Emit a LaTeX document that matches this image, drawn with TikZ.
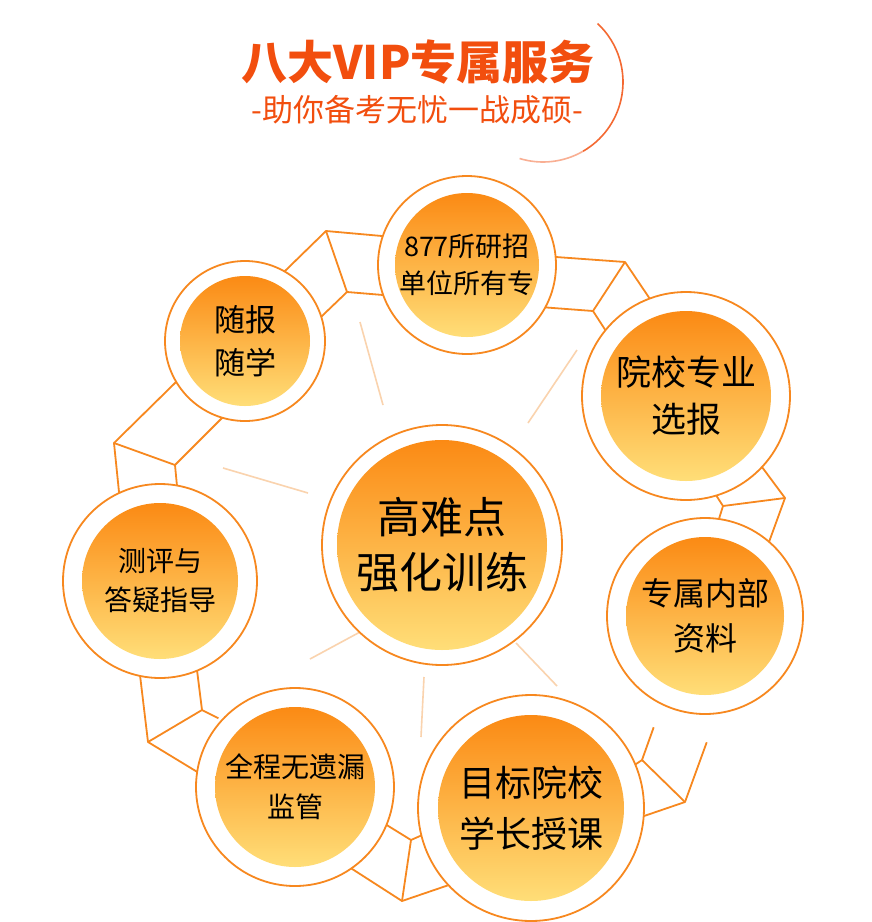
\documentclass[tikz,border=0pt]{standalone}
\usepackage{fontspec}
\newfontfamily\cjk{Noto Sans CJK SC}
\usetikzlibrary{calc}
\definecolor{ringc}{HTML}{F7881F}
\definecolor{bOrange}{HTML}{FB8A14}
\definecolor{bYellow}{HTML}{FFDE78}
\definecolor{titlec}{HTML}{F24E0E}
\definecolor{spokec}{HTML}{FAD3AE}
\tikzset{
  ringline/.style={draw=ringc, line width=1.8pt, line join=round},
  spoke/.style={draw=spokec, line width=1.6pt},
  outerc/.style={circle, draw=ringc, line width=1.8pt, fill=white, inner sep=0pt},
  bubtext/.style={align=center, text=black, inner sep=0pt},
}
\newcommand\bubble[8]{%
  \node[outerc, minimum size={2*#4 pt}] (#1) at (#2,#3) {};
  \shade[top color=bOrange, bottom color=bYellow] (#1.center) circle (#5pt);
  \node[bubtext, font=\cjk\fontsize{#6}{#7}\selectfont] (#1t) at (#1) {#8};}
\newcommand\seg[3]{\draw[ringline] ($(#1)!-5pt!(#2)$) -- (#2) -- ($(#3)!-5pt!(#2)$);}
\begin{document}
\begin{tikzpicture}[x=1pt,y=-1pt]
\useasboundingbox[fill=white] (0,0) rectangle (872,922);
% title
\draw[titlec!85, line width=1.6pt] (543,82) ++(-47:80) arc (-47:60:80);
\draw[titlec!45, line width=1.6pt] (543,82) ++(60:80) arc (60:107:80);
\node[font=\cjk\bfseries\fontsize{46}{50}\selectfont, text=titlec] (title) at (418,62) {八大VIP专属服务};
\node[font=\cjk\fontsize{31}{34}\selectfont, text=titlec] (sub) at (417,110) {-助你备考无忧一战成硕-};
% spokes
\draw[spoke] (360,322) -- (383,405);
\draw[spoke] (577,350) -- (528,423);
\draw[spoke] (223,468) -- (308,493);
\draw[spoke] (310,659) -- (360,632);
\draw[spoke] (424,677) -- (421,737);
\draw[spoke] (516,643) -- (557,686);
% ring
\coordinate (v1o) at (326,231); \coordinate (v1i) at (347,292);
\coordinate (v2o) at (625,262); \coordinate (v2i) at (593,311);
\coordinate (v3o) at (785,498); \coordinate (v3i) at (723,506);
\coordinate (v4o) at (685,802); \coordinate (v4i) at (642,760);
\coordinate (v5o) at (402,901); \coordinate (v5i) at (411,840);
\coordinate (v6o) at (148,742); \coordinate (v6i) at (202,710);
\coordinate (v7o) at (114,443); \coordinate (v7i) at (175,465);
\coordinate (a1) at (286,270); \coordinate (a2) at (382,236); \coordinate (a3) at (322,316); \coordinate (a4) at (383,295);
\coordinate (b1) at (556,257); \coordinate (b2) at (650,299); \coordinate (b3) at (540,307); \coordinate (b4) at (604,328);
\coordinate (c1) at (762,467); \coordinate (c2) at (769,542); \coordinate (c3) at (714,492); \coordinate (c4) at (718,522);
\coordinate (d1) at (705,747); \coordinate (d2) at (647,815); \coordinate (d3) at (652,732); \coordinate (d4) at (636,764);
\coordinate (e1) at (443,887); \coordinate (e2) at (332,856); \coordinate (e3) at (420,836); \coordinate (e4) at (377,819);
\coordinate (f1) at (199,773); \coordinate (f2) at (140,675); \coordinate (f3) at (214,716); \coordinate (f4) at (197,670);
\coordinate (g1) at (119,492); \coordinate (g2) at (175,383); \coordinate (g3) at (177,486); \coordinate (g4) at (222,418);
\seg{a1}{v1o}{a2} \seg{a3}{v1i}{a4} \draw[ringline] (v1o) -- (v1i);
\seg{b1}{v2o}{b2} \seg{b3}{v2i}{b4} \draw[ringline] (v2o) -- (v2i);
\seg{c1}{v3o}{c2} \seg{c3}{v3i}{c4} \draw[ringline] (v3o) -- (v3i);
\seg{d1}{v4o}{d2} \seg{d3}{v4i}{d4} \draw[ringline] (v4o) -- (v4i);
\seg{e1}{v5o}{e2} \seg{e3}{v5i}{e4} \draw[ringline] (v5o) -- (v5i);
\seg{f1}{v6o}{f2} \seg{f3}{v6i}{f4} \draw[ringline] (v6o) -- (v6i);
\seg{g1}{v7o}{g2} \seg{g3}{v7i}{g4} \draw[ringline] (v7o) -- (v7i);
% bubbles
\bubble{nA}{467}{265}{89}{72}{27}{37}{877所研招\\单位所有专}
\bubble{nB}{686}{396}{104}{85}{35}{47}{院校专业\\选报}
\bubble{nC}{705}{616}{98}{79}{32}{45}{专属内部\\资料}
\bubble{nD}{531}{808}{113}{93}{36}{51}{目标院校\\学长授课}
\bubble{nE}{295}{787}{99}{80}{28}{40}{全程无遗漏\\监管}
\bubble{nF}{160}{581}{97}{78}{28}{39}{测评与\\答疑指导}
\bubble{nG}{245}{341}{80}{65}{31}{43}{随报\\随学}
\bubble{nH}{442}{545}{120}{105}{43}{55}{高难点\\强化训练}
\end{tikzpicture}
\end{document}
